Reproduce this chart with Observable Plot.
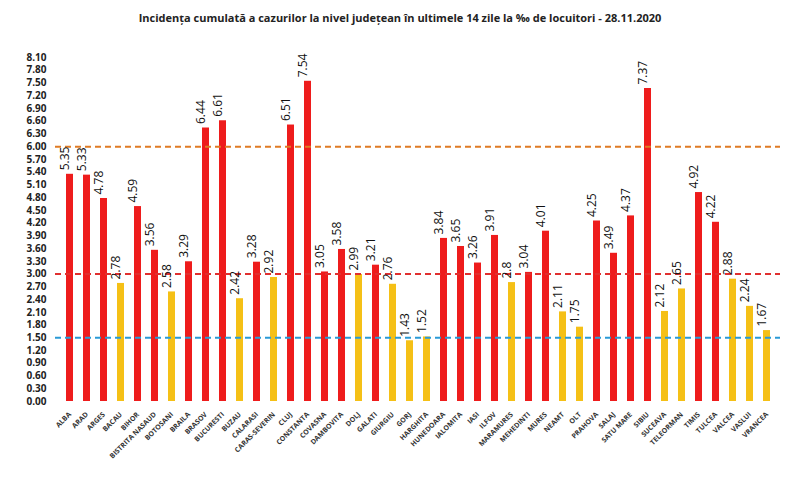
<!DOCTYPE html><html><head><meta charset="utf-8">
<script src="https://cdn.jsdelivr.net/npm/d3@7"></script>
<script src="https://cdn.jsdelivr.net/npm/@observablehq/plot@0.6"></script>
<style>body{margin:0;background:#fff;font-family:"Open Sans",sans-serif}#t{height:35px;line-height:36px;text-align:center;font-size:11px;font-weight:bold;color:#222}</style>
</head><body><div id="t">Incidența cumulată a cazurilor la nivel județean în ultimele 14 zile la ‰ de locuitori - 28.11.2020</div><div id="c"></div>
<script>
const counties=["ALBA","ARAD","ARGES","BACAU","BIHOR","BISTRITA NASAUD","BOTOSANI","BRAILA","BRASOV","BUCURESTI","BUZAU","CALARASI","CARAS-SEVERIN","CLUJ","CONSTANTA","COVASNA","DAMBOVITA","DOLJ","GALATI","GIURGIU","GORJ","HARGHITA","HUNEDOARA","IALOMITA","IASI","ILFOV","MARAMURES","MEHEDINTI","MURES","NEAMT","OLT","PRAHOVA","SALAJ","SATU MARE","SIBIU","SUCEAVA","TELEORMAN","TIMIS","TULCEA","VALCEA","VASLUI","VRANCEA"];
const values=[5.35,5.33,4.78,2.78,4.59,3.56,2.58,3.29,6.44,6.61,2.42,3.28,2.92,6.51,7.54,3.05,3.58,2.99,3.21,2.76,1.43,1.52,3.84,3.65,3.26,3.91,2.8,3.04,4.01,2.11,1.75,4.25,3.49,4.37,7.37,2.12,2.65,4.92,4.22,2.88,2.24,1.67];
const labels=["5.35","5.33","4.78","2.78","4.59","3.56","2.58","3.29","6.44","6.61","2.42","3.28","2.92","6.51","7.54","3.05","3.58","2.99","3.21","2.76","1.43","1.52","3.84","3.65","3.26","3.91","2.8","3.04","4.01","2.11","1.75","4.25","3.49","4.37","7.37","2.12","2.65","4.92","4.22","2.88","2.24","1.67"];
const yTicks=d3.range(0,28).map(i=>+(i*0.3).toFixed(2));
const thresholds=[{v:6,c:"#e07b24"},{v:3,c:"#e03030"},{v:1.5,c:"#2b9ad6"}];
const data=counties.map((c,i)=>({c,v:values[i],l:labels[i]}));
const chart=Plot.plot({width:800,height:448,marginLeft:55,marginRight:20,marginTop:22,marginBottom:82,
x:{domain:counties,padding:0.6,label:null,tickSize:0,tickRotate:-45},
y:{domain:[0,8.1],ticks:yTicks,tickFormat:d=>d.toFixed(2),label:null,tickSize:0},
style:{fontSize:"10px",fontFamily:"Open Sans, sans-serif"},
marks:[
Plot.barY(data,{x:"c",y:"v",fill:d=>d.v>=3?"#ee1c1c":"#f5c016"}),
Plot.ruleY(thresholds,{y:"v",stroke:"c",strokeWidth:2,strokeDasharray:"6,4"}),
Plot.text(data,{x:"c",y:"v",text:"l",rotate:-90,textAnchor:"start",dy:-4,dx:-5,fontSize:12,fill:"#111"}),
Plot.axisX({tickSize:0,tickRotate:-45,fontSize:7,fontWeight:"bold",fill:"#333"}),
Plot.axisY({ticks:yTicks,tickFormat:d=>d.toFixed(2),tickSize:0,fontSize:10,fontWeight:"bold",fill:"#222"})
]});
document.getElementById("c").appendChild(chart);
</script></body></html>
